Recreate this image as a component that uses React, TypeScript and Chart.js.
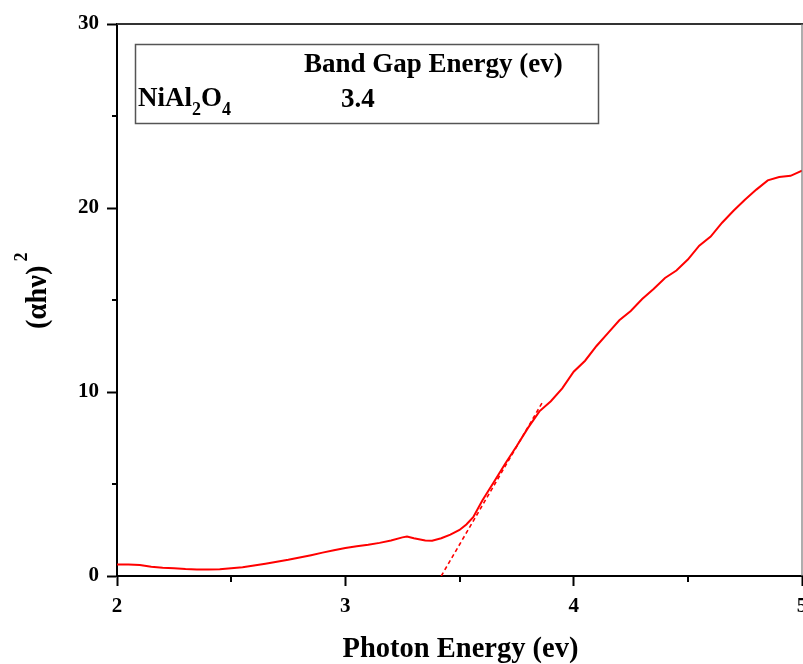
import React, { useEffect, useRef } from "react";
import { Chart, registerables } from "chart.js";

Chart.register(...registerables);

// Photon energy (eV) and (αhν)²
const photonEnergy = [
  2.0, 2.05, 2.1, 2.15, 2.2, 2.25, 2.3, 2.35, 2.4, 2.45, 2.5, 2.55, 2.6, 2.65, 2.7, 2.75,
  2.8, 2.85, 2.9, 2.95, 3.0, 3.05, 3.1, 3.15, 3.2, 3.25, 3.27, 3.3, 3.35, 3.38, 3.42, 3.46,
  3.5, 3.53, 3.56, 3.6, 3.65, 3.7, 3.75, 3.8, 3.85, 3.9, 3.95, 4.0, 4.05, 4.1, 4.15, 4.2,
  4.25, 4.3, 4.35, 4.4, 4.45, 4.5, 4.55, 4.6, 4.65, 4.7, 4.75, 4.8, 4.85, 4.9, 4.95, 5.0,
];
const alphaHvSquared = [
  0.62, 0.62, 0.6, 0.5, 0.45, 0.42, 0.38, 0.36, 0.36, 0.37, 0.42, 0.48, 0.57, 0.67, 0.78, 0.88,
  1.0, 1.13, 1.27, 1.4, 1.52, 1.62, 1.7, 1.8, 1.93, 2.1, 2.14, 2.05, 1.93, 1.92, 2.05, 2.25,
  2.5, 2.8, 3.2, 4.1, 5.1, 6.1, 7.05, 8.05, 8.95, 9.5, 10.2, 11.1, 11.7, 12.5, 13.2, 13.9,
  14.4, 15.05, 15.6, 16.2, 16.6, 17.2, 17.95, 18.45, 19.2, 19.85, 20.45, 21.0, 21.5, 21.68, 21.75, 22.03,
];
// Tangent (extrapolation) line
const tangentEnergy = [3.42, 3.866];
const tangentValue = [0, 9.5];

const xMinorTicks = [2.5, 3.5, 4.5];
const yMinorTicks = [5, 15, 25];

const legendHeader = "Band Gap Energy (ev)";
const sampleBase = ["NiAl", "2", "O", "4"];
const bandGap = "3.4";
const xTitle = "Photon Energy (ev)";
const yTitle = "(\u03b1h\u03bd)";
const yTitleSup = "2";

const FONT = "'Liberation Serif', 'Times New Roman', serif";

const decorPlugin = {
  id: "decor",
  afterDraw(chart: any) {
    const { ctx, chartArea } = chart;
    const { left, right, top, bottom } = chartArea;
    const xs = chart.scales.x;
    const ys = chart.scales.y;
    ctx.save();
    // top border
    ctx.strokeStyle = "#333";
    ctx.lineWidth = 2;
    ctx.beginPath();
    ctx.moveTo(left, top);
    ctx.lineTo(right + 1, top);
    ctx.stroke();
    // right border
    ctx.strokeStyle = "#777";
    ctx.lineWidth = 1.2;
    ctx.beginPath();
    ctx.moveTo(right, top);
    ctx.lineTo(right, bottom);
    ctx.stroke();
    // minor ticks
    ctx.strokeStyle = "#000";
    ctx.lineWidth = 2;
    for (const v of yMinorTicks) {
      const y = Math.round(ys.getPixelForValue(v));
      ctx.beginPath();
      ctx.moveTo(left - 5, y);
      ctx.lineTo(left, y);
      ctx.stroke();
    }
    for (const v of xMinorTicks) {
      const x = Math.round(xs.getPixelForValue(v));
      ctx.beginPath();
      ctx.moveTo(x, bottom);
      ctx.lineTo(x, bottom + 6);
      ctx.stroke();
    }
    // legend box
    ctx.strokeStyle = "#555";
    ctx.lineWidth = 1.5;
    ctx.strokeRect(left + 18.5, top + 20.5, 463, 79);
    ctx.fillStyle = "#000";
    ctx.textBaseline = "alphabetic";
    ctx.textAlign = "left";
    ctx.font = `bold 27px ${FONT}`;
    ctx.fillText(legendHeader, left + 187, top + 48);
    ctx.fillText(bandGap, left + 224, top + 83);
    let cx = left + 21;
    const baseY = top + 82;
    sampleBase.forEach((part, i) => {
      const sub = i % 2 === 1;
      ctx.font = sub ? `bold 18px ${FONT}` : `bold 27px ${FONT}`;
      ctx.fillText(part, cx, sub ? baseY + 9 : baseY);
      cx += ctx.measureText(part).width;
    });
    // x title
    ctx.font = `bold 28.5px ${FONT}`;
    ctx.textAlign = "center";
    ctx.fillText(xTitle, (left + right) / 2 + 1, 657);
    // y title (rotated)
    ctx.save();
    ctx.translate(46, 329);
    ctx.rotate(-Math.PI / 2);
    ctx.textAlign = "left";
    ctx.font = `bold 28.5px ${FONT}`;
    ctx.fillText(yTitle, 0, 0);
    const w = ctx.measureText(yTitle).width;
    ctx.font = `bold 18px ${FONT}`;
    ctx.fillText(yTitleSup, w + 4, -19);
    ctx.restore();
    ctx.restore();
  },
};

export default function App() {
  const ref = useRef<HTMLCanvasElement | null>(null);
  useEffect(() => {
    const canvas = ref.current;
    if (!canvas) return;
    const mainData = photonEnergy.map((x, i) => ({ x, y: alphaHvSquared[i] }));
    const tanData = tangentEnergy.map((x, i) => ({ x, y: tangentValue[i] }));
    const tickFont = { family: FONT, size: 21, weight: "bold" as const };
    const chart = new Chart(canvas, {
      type: "line",
      data: {
        datasets: [
          {
            data: mainData,
            borderColor: "#ff0000",
            borderWidth: 2,
            pointRadius: 0,
            tension: 0,
            fill: false,
          },
          {
            data: tanData,
            borderColor: "#ff0000",
            borderWidth: 1.6,
            borderDash: [4, 3],
            pointRadius: 0,
            fill: false,
          },
        ],
      },
      options: {
        animation: false,
        responsive: false,
        devicePixelRatio: 1,
        layout: { padding: { top: 24, right: 1, left: 0, bottom: 0 } },
        plugins: { legend: { display: false }, tooltip: { enabled: false } },
        scales: {
          x: {
            type: "linear",
            min: 2,
            max: 5,
            ticks: { stepSize: 1, font: tickFont, color: "#000", padding: 8, maxRotation: 0 },
            grid: { drawOnChartArea: false, drawTicks: true, tickLength: 10, tickWidth: 2, tickColor: "#000" },
            border: { display: true, color: "#000", width: 2 },
            afterFit: (s: any) => {
              s.height = 88;
              s.paddingLeft = 0;
              s.paddingRight = 0;
            },
          },
          y: {
            type: "linear",
            min: 0,
            max: 30,
            ticks: { stepSize: 10, font: tickFont, color: "#000", padding: 8 },
            grid: { drawOnChartArea: false, drawTicks: true, tickLength: 10, tickWidth: 2, tickColor: "#000" },
            border: { display: true, color: "#000", width: 2 },
            afterFit: (s: any) => {
              s.width = 117;
              s.paddingTop = 0;
              s.paddingBottom = 0;
            },
          },
        },
      },
      plugins: [decorPlugin],
    });
    return () => chart.destroy();
  }, []);
  return (
    <div style={{ position: "fixed", left: 0, top: 0, width: 803, height: 664, background: "#fff" }}>
      <canvas ref={ref} width={803} height={664} style={{ display: "block" }} />
    </div>
  );
}
